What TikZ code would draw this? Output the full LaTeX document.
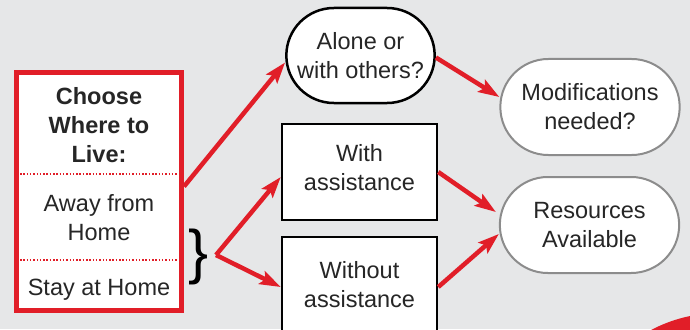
\documentclass[tikz,border=0pt]{standalone}
\usepackage{fontspec}
\setmainfont{Liberation Sans}
\usetikzlibrary{arrows.meta,shapes.misc}
\definecolor{bgray}{RGB}{230,231,232}
\definecolor{cred}{RGB}{225,30,40}
\definecolor{lgray}{RGB}{140,140,140}
\begin{document}
\begin{tikzpicture}[x=1pt,y=-1pt,
  txt/.style={font=\fontsize{23.5}{29}\selectfont, align=center, text=black!85},
  pill/.style={draw, rounded rectangle, fill=white, line width=2.5pt, minimum width=155pt, minimum height=95pt, txt},
  pillg/.style={pill, draw=lgray, line width=2pt, minimum width=186pt, minimum height=96pt},
  sqbox/.style={draw, rectangle, fill=white, line width=2.5pt, minimum width=155pt, txt},
  redarrow/.style={draw=cred, line width=4.5pt, -{Stealth[length=21pt,width=14pt,inset=4pt]}}]
\useasboundingbox (0,0) rectangle (690,329);
\clip (0,0) rectangle (690,329);
\fill[bgray] (0,0) rectangle (690,329);
\fill[cred] (720,461) circle (148);
% left box
\node[draw=cred, fill=white, line width=5pt, minimum width=165pt, minimum height=238pt] (lbox) at (99,191.5) {};
\draw[cred, line width=1.5pt, dash pattern=on 1.5pt off 1.8pt] (20,174) -- (178,174);
\draw[cred, line width=1.5pt, dash pattern=on 1.5pt off 1.8pt] (20,260) -- (178,260);
\node[txt, font=\fontsize{23.5}{29}\selectfont\bfseries] (choose) at (99,125) {Choose\\Where to\\Live:};
\node[txt] (away) at (99,218) {Away from\\Home};
\node[txt] (stay) at (99,290) {Stay at Home};
\node[font=\fontsize{60}{60}\selectfont] (brace) at (199,257) {\}};
\coordinate (fork) at (216,255);
% middle column
\node[pill] (alone) at (360.5,55.5) {Alone or\\with others?};
\node[sqbox, minimum height=96pt] (with) at (359.5,172) {};
\node[txt] (withlbl) at (359.5,168) {With\\assistance};
\node[sqbox, minimum height=100pt] (without) at (359.5,287) {};
\node[txt] (withoutlbl) at (359.5,285) {Without\\assistance};
% right column
\node[pillg] (modif) at (590,107) {Modifications\\needed?};
\node[pillg] (res) at (589.5,225) {Resources\\Available};
% arrows
\path[redarrow] ([yshift=5pt]lbox.east) -- ([yshift=-7pt]alone.west);
\path[redarrow] (fork) -- ([yshift=-5pt]with.west);
\path[redarrow] (fork) -- (without.west);
\path[redarrow] ([yshift=-2pt]alone.east) -- ([yshift=10pt]modif.west);
\path[redarrow] (with.east) -- ([yshift=13pt,xshift=-3pt]res.west);
\path[redarrow] (without.east) -- ([yshift=-9pt]res.west);
\end{tikzpicture}
\end{document}
